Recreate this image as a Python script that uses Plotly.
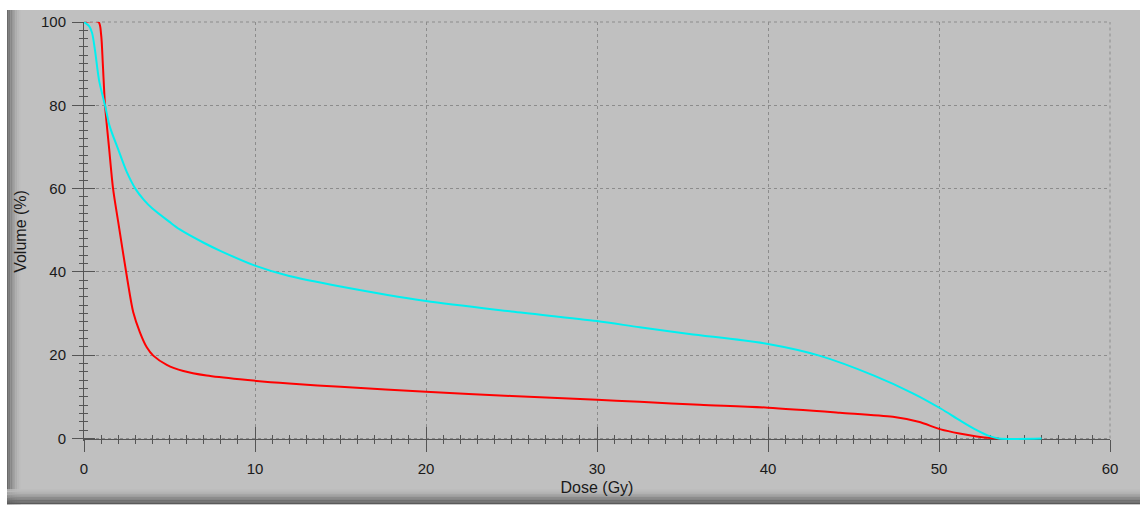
import plotly.graph_objects as go

# ---- data ----
red_dose = [0, 0.85, 1.0, 1.1, 1.23, 1.46, 1.7, 2.0, 2.53, 2.88, 3.27, 3.67, 4.05, 4.84, 5.81, 7.17, 9.12, 12, 15, 20, 25, 30, 32.5, 36, 40, 44.2, 47.3, 48.8, 50.1, 51.2, 52.2, 53, 53.5]
red_vol = [100, 100, 97, 90, 80, 70, 60, 52, 38.3, 30.3, 25.5, 21.9, 19.9, 17.7, 16.2, 15.1, 14.2, 13.2, 12.4, 11.2, 10.2, 9.3, 8.8, 8.1, 7.4, 6.2, 5.2, 4.0, 2.2, 1.2, 0.5, 0.1, 0]

cyan_dose = [0, 0.3, 0.47, 0.64, 0.88, 1.23, 1.5, 2.0, 2.5, 3.0, 3.5, 4.0, 5.0, 5.6, 7.0, 8.0, 10, 12, 15, 20, 25, 30, 32.5, 35.4, 40, 43, 46.2, 48.5, 50.1, 51.2, 52.2, 53, 53.5, 56]
cyan_vol = [100, 99, 97.4, 93.3, 86, 80, 75, 69.4, 64, 60, 57.3, 55.2, 52, 50.2, 47, 45, 41.5, 39, 36.5, 33, 30.5, 28.2, 26.7, 25.1, 22.7, 19.9, 15.1, 10.8, 7.2, 4.4, 2.0, 0.5, 0, 0]

x_ticks = [0, 10, 20, 30, 40, 50, 60]
y_ticks = [0, 20, 40, 60, 80, 100]

# ---- layout geometry ----
W, H = 1141, 506
Y_LOW = -0.6                      # small pad below 0 so lines on the axis are not clipped
L, R, T = 84, 31, 22
ZERO_PX = 440                     # pixel row of volume 0
unit = (ZERO_PX - T) / 100.0
B = H - (ZERO_PX + (-Y_LOW) * unit)
pw, ph = W - L - R, H - T - B
XPOS = (-Y_LOW) * unit / ph       # x axis sits at volume 0


def px(x):
    return (x - L) / pw


def py(y):
    return (H - B - y) / ph


fig = go.Figure()
fig.add_trace(go.Scatter(x=red_dose, y=red_vol, mode="lines",
                         line=dict(color="#ff0000", width=2, shape="spline", smoothing=0.8),
                         showlegend=False, hoverinfo="skip"))
fig.add_trace(go.Scatter(x=cyan_dose, y=cyan_vol, mode="lines",
                         line=dict(color="#00f0f0", width=2, shape="spline", smoothing=0.8),
                         showlegend=False, hoverinfo="skip"))
# dummy trace for overlay axes
fig.add_trace(go.Scatter(x=[0], y=[0], xaxis="x2", yaxis="y2", mode="markers",
                         marker=dict(opacity=0), showlegend=False, hoverinfo="skip"))

shapes = []
# gray panel
shapes.append(dict(type="rect", xref="paper", yref="paper", layer="below",
                   x0=px(7), x1=px(1140), y0=py(506), y1=py(10),
                   fillcolor="#c0c0c0", line=dict(width=0)))
# left shadow gradient
lefts = ["#6a6a6a", "#7a7a7a", "#888888", "#959595", "#a2a2a2", "#adadad", "#b6b6b6", "#bcbcbc"]
for i, c in enumerate(lefts):
    shapes.append(dict(type="rect", xref="paper", yref="paper", layer="below",
                       x0=px(7 + i * 1.7), x1=px(7 + (i + 1) * 1.7), y0=py(506), y1=py(10),
                       fillcolor=c, line=dict(width=0)))
# bottom shadow gradient
bots = ["#bdbdbd", "#b8b8b8", "#b0b0b0", "#a6a6a6", "#9a9a9a", "#8c8c8c", "#7e7e7e", "#707070", "#646464", "#5a5a5a"]
for i, c in enumerate(bots):
    shapes.append(dict(type="rect", xref="paper", yref="paper", layer="below",
                       x0=px(7), x1=px(1140), y0=py(491 + (i + 1) * 1.5), y1=py(491 + i * 1.5),
                       fillcolor=c, line=dict(width=0)))
# dotted frame lines at the top (100 %) and right (60 Gy)
shapes.append(dict(type="line", xref="paper", yref="paper", layer="below",
                   x0=0, x1=1, y0=1, y1=1, line=dict(color="#8c8c8c", width=1, dash="dot")))
shapes.append(dict(type="line", xref="paper", yref="paper", layer="below",
                   x0=1, x1=1, y0=XPOS, y1=1, line=dict(color="#8c8c8c", width=1, dash="dot")))
# cover the tiny strip below volume 0 inside the plot area with the panel grey
shapes.append(dict(type="rect", xref="paper", yref="paper", layer="below",
                   x0=0, x1=1, y0=0, y1=XPOS, fillcolor="#c0c0c0", line=dict(width=0)))

fig.update_layout(
    width=W, height=H,
    margin=dict(l=L, r=R, t=T, b=B),
    paper_bgcolor="white",
    plot_bgcolor="#c0c0c0",
    font=dict(family="Liberation Sans, Arial, sans-serif", color="#1a1a1a", size=15),
    shapes=shapes,
    xaxis=dict(range=[0, 60], tickvals=x_ticks, ticks="outside", ticklen=12, tickwidth=1,
               tickcolor="#555555", showline=True, linecolor="#555555", linewidth=1,
               showgrid=True, gridcolor="#8c8c8c", griddash="dot", gridwidth=1,
               zeroline=False, ticklabelstandoff=4, layer="below traces",
               anchor="free", position=XPOS,
               minor=dict(dtick=1, ticks="outside", ticklen=4, tickcolor="#555555", showgrid=False),
               title=dict(text="Dose (Gy)", font=dict(size=16), standoff=6)),
    yaxis=dict(range=[Y_LOW, 100], tickvals=y_ticks, ticks="outside", ticklen=11, tickwidth=1,
               tickcolor="#555555", showline=True, linecolor="#555555", linewidth=1,
               showgrid=True, gridcolor="#8c8c8c", griddash="dot", gridwidth=1,
               zeroline=False, ticklabelstandoff=3, layer="below traces",
               minor=dict(dtick=2, ticks="outside", ticklen=4, tickcolor="#555555", showgrid=False),
               title=dict(text="Volume (%)", font=dict(size=16), standoff=10)),
    xaxis2=dict(range=[0, 60], overlaying="x", anchor="free", position=XPOS, side="bottom",
                tickvals=x_ticks, ticks="inside", ticklen=12, tickcolor="#555555",
                showticklabels=False, showgrid=False, zeroline=False, showline=False,
                layer="below traces",
                minor=dict(dtick=1, ticks="inside", ticklen=4, tickcolor="#555555")),
    yaxis2=dict(range=[Y_LOW, 100], overlaying="y", anchor="x", side="left", tickvals=y_ticks,
                ticks="inside", ticklen=11, tickcolor="#555555", showticklabels=False,
                showgrid=False, zeroline=False, showline=False, layer="below traces",
                minor=dict(dtick=2, ticks="inside", ticklen=4, tickcolor="#555555")),
)

fig.write_html("out.html")
